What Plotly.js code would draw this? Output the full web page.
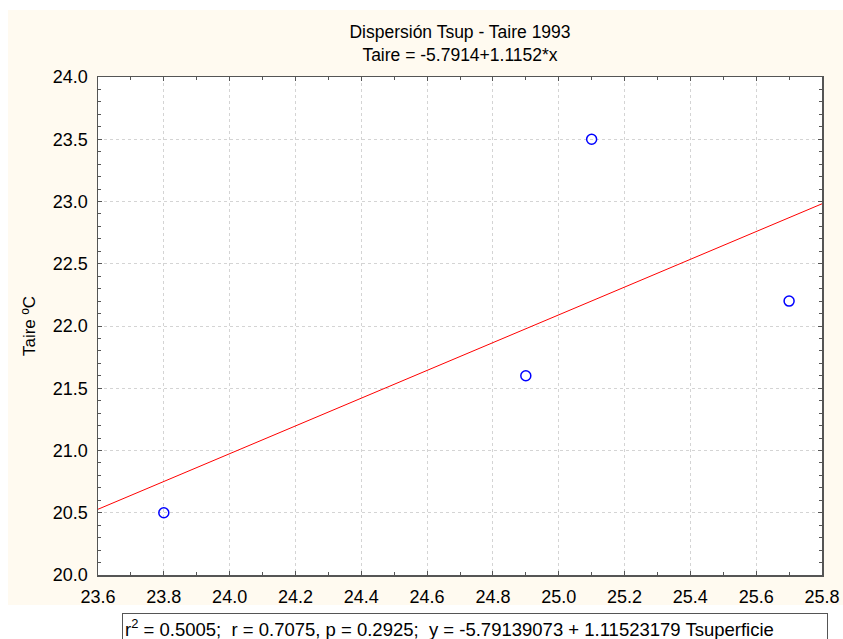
<!DOCTYPE html>
<html>
<head>
<meta charset="utf-8">
<script src="https://cdn.plot.ly/plotly-3.0.1.min.js"></script>
<style>html,body{margin:0;padding:0;background:#fff;}#chart{width:843px;height:639px;}</style>
</head>
<body>
<div id="chart"></div>
<script>
// Data
const tsup = [23.8, 24.9, 25.1, 25.7];
const taire = [20.5, 21.6, 23.5, 22.2];
const intercept = -5.79139073;
const slope = 1.11523179;
const xRange = [23.6, 25.8];
const yRange = [20.0, 24.0];
const titleLines = ["Dispersión Tsup - Taire 1993", "Taire = -5.7914+1.1152*x"];
const yTitle = "Taire ºC";
const statsText = "r<sup>2</sup> = 0.5005;  r = 0.7075, p = 0.2925;  y = -5.79139073 + 1.11523179 Tsuperficie";

const fitX = xRange.slice();
const fitY = fitX.map(x => intercept + slope * x);

const font = {family: "Liberation Sans, Arial, sans-serif", color: "#000"};

const traces = [
  {
    x: fitX, y: fitY, mode: "lines", type: "scatter",
    line: {color: "#ff0000", width: 1}, hoverinfo: "skip"
  },
  {
    x: tsup, y: taire, mode: "markers", type: "scatter",
    marker: {symbol: "circle-open", size: 10, color: "#0000ff", line: {width: 1.5, color: "#0000ff"}}
  }
];

const W = 843, H = 639;
const mL = 98, mR = 21, mT = 77, mB = 64;
const pw = W - mL - mR, ph = H - mT - mB;
const px = p => (p - mL) / pw;
const py = p => (H - mB - p) / ph;

const axisCommon = {
  showline: true, linecolor: "#555", linewidth: 1.5, mirror: "ticks",
  ticks: "inside", ticklen: 4, tickcolor: "#555", tickwidth: 1,
  showgrid: true, gridcolor: "#d4d4d4", griddash: "dot", gridwidth: 1,
  zeroline: false, tickfont: Object.assign({size: 18}, font),
  fixedrange: true
};

const layout = {
  width: W, height: H,
  margin: {l: mL, r: mR, t: mT, b: mB, pad: 0},
  paper_bgcolor: "#ffffff", plot_bgcolor: "#ffffff",
  showlegend: false,
  font: Object.assign({size: 17}, font),
  title: {
    text: titleLines.join("<br>"),
    font: Object.assign({size: 17.5}, font),
    x: 0.5, xref: "paper", xanchor: "center",
    y: 1 - 38 / H, yanchor: "top", yref: "container"
  },
  xaxis: Object.assign({}, axisCommon, {
    range: xRange, dtick: 0.2, tick0: 23.6, tickformat: ".1f", ticklabelstandoff: 5,
    minor: {dtick: 0.1, ticks: "inside", ticklen: 3, tickcolor: "#555", showgrid: false}
  }),
  yaxis: Object.assign({}, axisCommon, {
    range: yRange, dtick: 0.5, tick0: 20, tickformat: ".1f", ticklabelstandoff: 5,
    title: {text: yTitle, font: Object.assign({size: 17}, font), standoff: 13},
    minor: {dtick: 0.1, ticks: "inside", ticklen: 3, tickcolor: "#555", showgrid: false}
  }),
  shapes: [
    {type: "rect", xref: "paper", yref: "paper", layer: "below",
     x0: px(8), x1: px(843), y0: py(605), y1: py(10),
     fillcolor: "#fffaf0", line: {width: 0}},
    {type: "rect", xref: "paper", yref: "paper", layer: "below",
     x0: 0, x1: 1, y0: 0, y1: 1,
     fillcolor: "#ffffff", line: {width: 0}}
  ],
  annotations: [
    {xref: "paper", yref: "paper", x: px(122), y: py(613),
     xanchor: "left", yanchor: "top", showarrow: false,
     text: statsText, align: "left", width: 700, height: 24,
     bgcolor: "#ffffff", bordercolor: "#555", borderwidth: 1, borderpad: 2,
     font: Object.assign({size: 18.5}, font)}
  ]
};

Plotly.newPlot("chart", traces, layout, {displayModeBar: false, staticPlot: true});
</script>
</body>
</html>
